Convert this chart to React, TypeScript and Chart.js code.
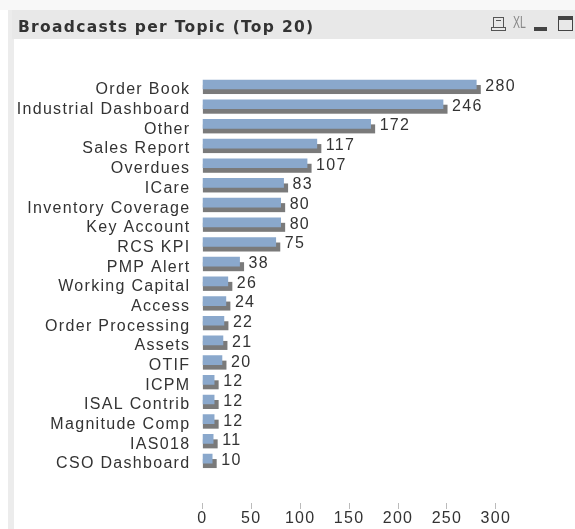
import React, { useEffect, useRef } from "react";
import { Chart, registerables } from "chart.js";

Chart.register(...registerables);

const categories = ["Order Book","Industrial Dashboard","Other","Sales Report","Overdues","ICare","Inventory Coverage","Key Account","RCS KPI","PMP Alert","Working Capital","Access","Order Processing","Assets","OTIF","ICPM","ISAL Contrib","Magnitude Comp","IAS018","CSO Dashboard"];
const broadcasts = [280,246,172,117,107,83,80,80,75,38,26,24,22,21,20,12,12,12,11,10];
const titleText = "Broadcasts per Topic (Top 20)";
const FONT = "Liberation Sans, Arial, sans-serif";

const decorPlugin = {
  id: "decor",
  beforeDraw(chart: any) {
    const c = chart.ctx;
    c.save();
    c.fillStyle = "#ffffff";
    c.fillRect(0, 0, 575, 529);
    c.fillStyle = "#f8f8f8";
    c.fillRect(0, 0, 575, 10);
    c.fillStyle = "#ececec";
    c.fillRect(8, 10, 6, 519);
    c.fillStyle = "#e8e8e8";
    c.fillRect(12, 10, 563, 29);
    c.restore();
    c.letterSpacing = "1.3px";
  },
  afterDraw(chart: any) {
    const c = chart.ctx;
    c.save();
    c.letterSpacing = "0px";
    c.strokeStyle = "#555";
    c.fillStyle = "#555";
    c.lineWidth = 1;
    c.strokeRect(493.5, 17.5, 10, 10);
    c.fillRect(496, 20, 5, 1);
    c.strokeRect(491.5, 27.5, 14, 3);
    c.save();
    c.translate(513, 23.5);
    c.scale(0.75, 1.15);
    c.font = "14px " + FONT;
    c.fillStyle = "#888";
    c.textAlign = "left";
    c.textBaseline = "middle";
    c.fillText("XL", 0, 0);
    c.restore();
    c.fillStyle = "#444";
    c.fillRect(534, 27, 13, 4);
    c.strokeStyle = "#444";
    c.strokeRect(558.5, 16.5, 14, 14);
    c.fillRect(558, 16, 15, 4);
    c.restore();
  },
};

const depthPlugin = {
  id: "depth",
  beforeDatasetsDraw(chart: any) {
    const c = chart.ctx;
    const meta = chart.getDatasetMeta(0);
    c.save();
    c.fillStyle = "#7a7a7a";
    meta.data.forEach((bar: any) => {
      const h = bar.height;
      c.fillRect(bar.base, bar.y - h / 2 + 5, bar.x - bar.base + 4.5, h);
    });
    c.restore();
  },
  afterDatasetsDraw(chart: any) {
    const c = chart.ctx;
    const meta = chart.getDatasetMeta(0);
    c.save();
    c.font = "16px " + FONT;
    c.fillStyle = "#333333";
    c.textAlign = "left";
    c.textBaseline = "middle";
    meta.data.forEach((bar: any, i: number) => {
      c.fillText(String(broadcasts[i]), bar.x + 9, bar.y + 2);
    });
    c.restore();
  },
};

export default function App() {
  const ref = useRef<HTMLCanvasElement>(null);
  useEffect(() => {
    document.body.style.margin = "0";
    const chart = new Chart(ref.current as HTMLCanvasElement, {
      type: "bar",
      data: {
        datasets: [
          {
            data: broadcasts.map((v, i) => ({ x: v, y: i })),
            backgroundColor: "#8aa8cc",
            borderWidth: 0,
            barThickness: 9,
          },
        ],
      },
      plugins: [decorPlugin, depthPlugin],
      options: {
        indexAxis: "y",
        animation: false,
        responsive: false,
        layout: { autoPadding: false, padding: { left: 18, right: 59.6, top: 0, bottom: 0 } },
        plugins: {
          legend: { display: false },
          tooltip: { enabled: false },
          title: {
            display: true,
            text: titleText,
            align: "start",
            color: "#333333",
            font: { family: "DejaVu Sans", size: 15.5, weight: "bold", lineHeight: 1.2 },
            padding: { top: 18.7, bottom: 26.4 },
          },
        },
        scales: {
          x: {
            type: "linear",
            min: 0,
            max: 320,
            border: { display: false },
            grid: { drawOnChartArea: false, drawTicks: true, tickLength: 6, color: "#bbbbbb" },
            ticks: { stepSize: 50, includeBounds: false, maxRotation: 0, padding: 0, color: "#333333", font: { family: FONT, size: 16 } },
            afterFit(s: any) { s.height = 26; },
          },
          y: {
            type: "linear",
            reverse: true,
            min: -0.5,
            max: 20.7,
            border: { display: false },
            grid: { display: false },
            afterBuildTicks(s: any) {
              s.ticks = categories.map((_, i) => ({ value: i }));
            },
            ticks: {
              autoSkip: false,
              padding: 4,
              labelOffset: 5.5,
              color: "#333333",
              font: { family: FONT, size: 16 },
              callback: (v: any) => categories[v] ?? "",
            },
            afterFit(s: any) { s.width = 184.4; },
          },
        },
      },
    } as any);
    return () => chart.destroy();
  }, []);
  return <canvas ref={ref} width={575} height={529} style={{ display: "block" }} />;
}
